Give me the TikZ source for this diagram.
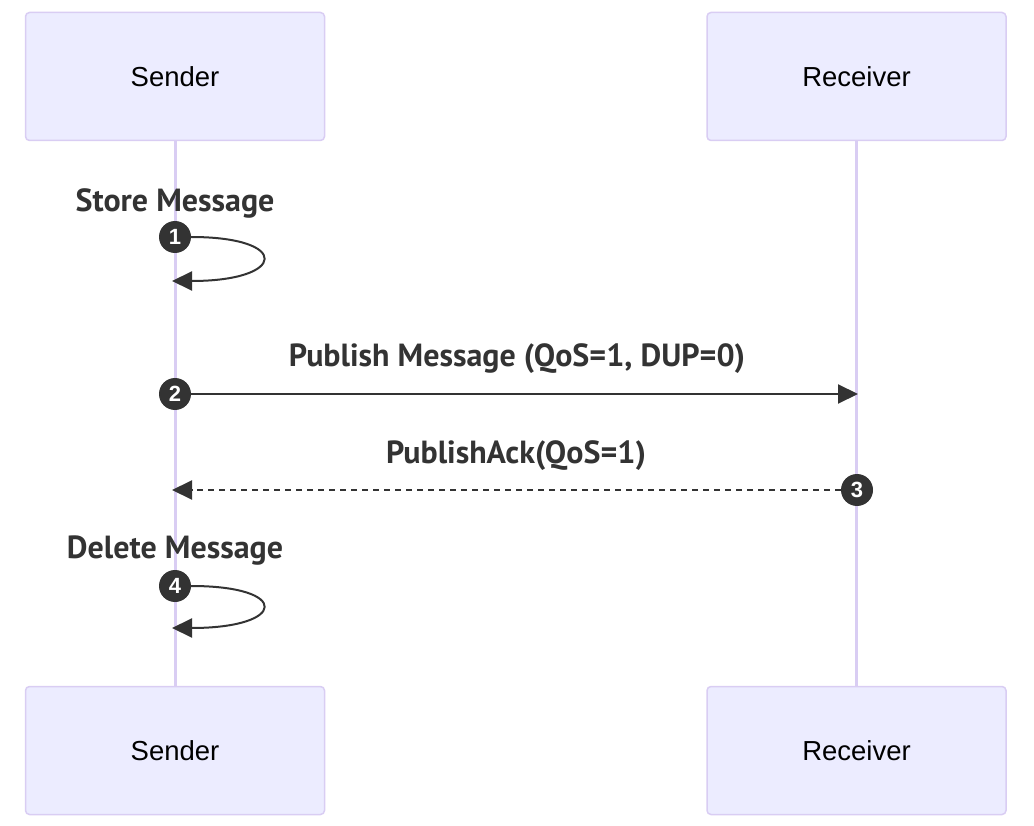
\documentclass[tikz,border=0pt]{standalone}
\usepackage{fontspec}
\setmainfont{Liberation Sans}
\newfontfamily\msgfont{PT Sans}
\usetikzlibrary{positioning}
\usetikzlibrary{arrows.meta}

\definecolor{actorfill}{HTML}{ECECFF}
\definecolor{actorline}{HTML}{D9CDF3}
\definecolor{msgdark}{HTML}{333333}

\tikzset{
  actor/.style={draw=actorline, line width=1.5pt, fill=actorfill, rounded corners=4pt,
    minimum width=299pt, minimum height=128pt, font=\fontsize{27.5}{31}\selectfont},
  lifeline/.style={actorline, line width=3pt},
  msg/.style={msgdark, line width=2pt, -{Triangle[length=20pt,width=19pt]}},
  msglabel/.style={text=msgdark, font=\msgfont\bfseries\fontsize{32}{36}\selectfont},
  seqnum/.style={circle, fill=msgdark, text=white, inner sep=0pt, minimum size=32pt,
    font=\fontsize{22}{25}\selectfont\bfseries}
}

\begin{document}
\begin{tikzpicture}[x=1pt, y=-1pt]
    \useasboundingbox (0,0) rectangle (1034,826);

    %draw actors
    \node[actor] (sendtop) at (175,76.5) {Sender};
    \node[actor] (recvtop) at (856.5,76.5) {Receiver};
    \node[actor] (sendbot) at (175,750.5) {Sender};
    \node[actor] (recvbot) at (856.5,750.5) {Receiver};

    %draw lifelines
    \draw[lifeline] (sendtop) -- (sendbot);
    \draw[lifeline] (recvtop) -- (recvbot);

    %draw store loop
    \node[msglabel] (storelbl) at (175,203) {Store Message};
    \node[seqnum] (num1) at (175,237) {1};
    \coordinate (loop1) at (172,281);
    \draw[msg] (num1.east) .. controls +(100,0) and +(115,0) .. (loop1);

    %draw publish
    \node[msglabel] (publbl) at (517,359) {Publish Message (QoS=1, DUP=0)};
    \node[seqnum] (num2) at (175,394) {2};
    \coordinate (recv2) at (858,394);
    \draw[msg] (num2) -- (recv2);

    %draw ack
    \node[msglabel] (acklbl) at (516,456) {PublishAck(QoS=1)};
    \node[seqnum] (num3) at (857,490) {3};
    \coordinate (send3) at (172,490);
    \draw[msg, dash pattern=on 6pt off 5pt] (num3) -- (send3);

    %draw delete loop
    \node[msglabel] (dellbl) at (175,551) {Delete Message};
    \node[seqnum] (num4) at (175,586) {4};
    \coordinate (loop4) at (172,628);
    \draw[msg] (num4.east) .. controls +(100,0) and +(115,0) .. (loop4);

\end{tikzpicture}
\end{document}
